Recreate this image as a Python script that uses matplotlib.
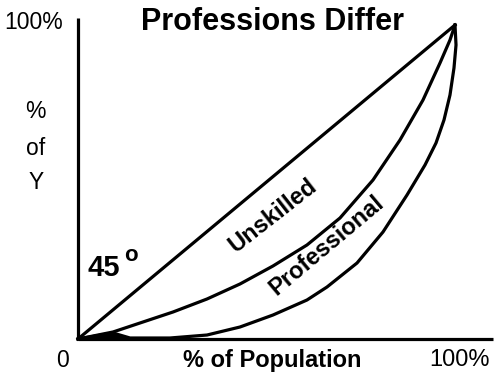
import matplotlib
matplotlib.use("Agg")
import matplotlib.pyplot as plt

plt.rcParams['font.family'] = ['Liberation Sans', 'DejaVu Sans']

# Data (percent of population vs percent of income Y)
equality_x = [0, 100]
equality_y = [0, 100]

unskilled_x = [0, 9.28, 16.45, 25.20, 34.22, 42.97, 51.72, 60.74, 69.50, 78.25, 85.41, 91.51, 96.02, 98.67, 100]
unskilled_y = [0, 2.23, 5.10, 8.60, 12.74, 17.52, 23.25, 29.94, 38.54, 50.64, 63.38, 76.11, 87.90, 95.22, 100]

professional_x = [0, 9.28, 13.79, 24.40, 34.22, 42.97, 51.72, 60.74, 66.05, 74.01, 80.90, 87.27, 92.04, 94.96, 97.08, 98.67, 99.73, 100.27, 100]
professional_y = [0, 1.91, 0.32, 0.32, 1.27, 3.82, 7.64, 12.42, 16.56, 24.20, 34.08, 45.86, 55.41, 62.42, 69.75, 77.71, 86.31, 93.63, 100]

x_axis_end = 110
y_axis_end = 102.2

fig = plt.figure(figsize=(4.99, 3.84), dpi=100)
ax = fig.add_axes([0, 0, 1, 1])
ax.set_xlim(-78 / 3.77, (499 - 78) / 3.77)
ax.set_ylim((339 - 384) / 3.14, 339 / 3.14)
ax.axis('off')

lw = 2.3
ax.plot([0, x_axis_end], [0, 0], color='black', lw=lw, solid_capstyle='butt')
ax.plot([0, 0], [0, y_axis_end], color='black', lw=lw, solid_capstyle='butt')
ax.plot(equality_x, equality_y, color='black', lw=lw, solid_joinstyle='round')
ax.plot(unskilled_x, unskilled_y, color='black', lw=lw, solid_joinstyle='round')
ax.plot(professional_x, professional_y, color='black', lw=lw, solid_joinstyle='round')
ax.fill(professional_x[:4], professional_y[:4], color='black')

ax.text(51.5, 100.9, 'Professions Differ', ha='center', va='center', fontsize=22, fontweight='bold')
ax.text(-11.9, 100.8, '100%', ha='center', va='center', fontsize=16.5)
ax.text(-11.2, 72.3, '%', ha='center', va='center', fontsize=16.5)
ax.text(-11.2, 60.8, 'of', ha='center', va='center', fontsize=16.5)
ax.text(-11.2, 49.7, 'Y', ha='center', va='center', fontsize=16.5)
ax.text(2.4, 22.6, '45', ha='left', va='center', fontsize=21, fontweight='bold')
ax.text(14.1, 26.5, 'o', ha='center', va='center', fontsize=16, fontweight='bold')
ax.text(-4.2, -6.7, '0', ha='center', va='center', fontsize=16.5)
ax.text(51.5, -6.7, '% of Population', ha='center', va='center', fontsize=17, fontweight='bold')
ax.text(101.1, -6.7, '100%', ha='center', va='center', fontsize=17)
ax.text(51.7, 39.2, 'Unskilled', ha='center', va='center', fontsize=17, fontweight='bold', rotation=38)
ax.text(65.8, 29.9, 'Professional', ha='center', va='center', fontsize=17, fontweight='bold', rotation=40)

fig.savefig('out.png', dpi=100)
